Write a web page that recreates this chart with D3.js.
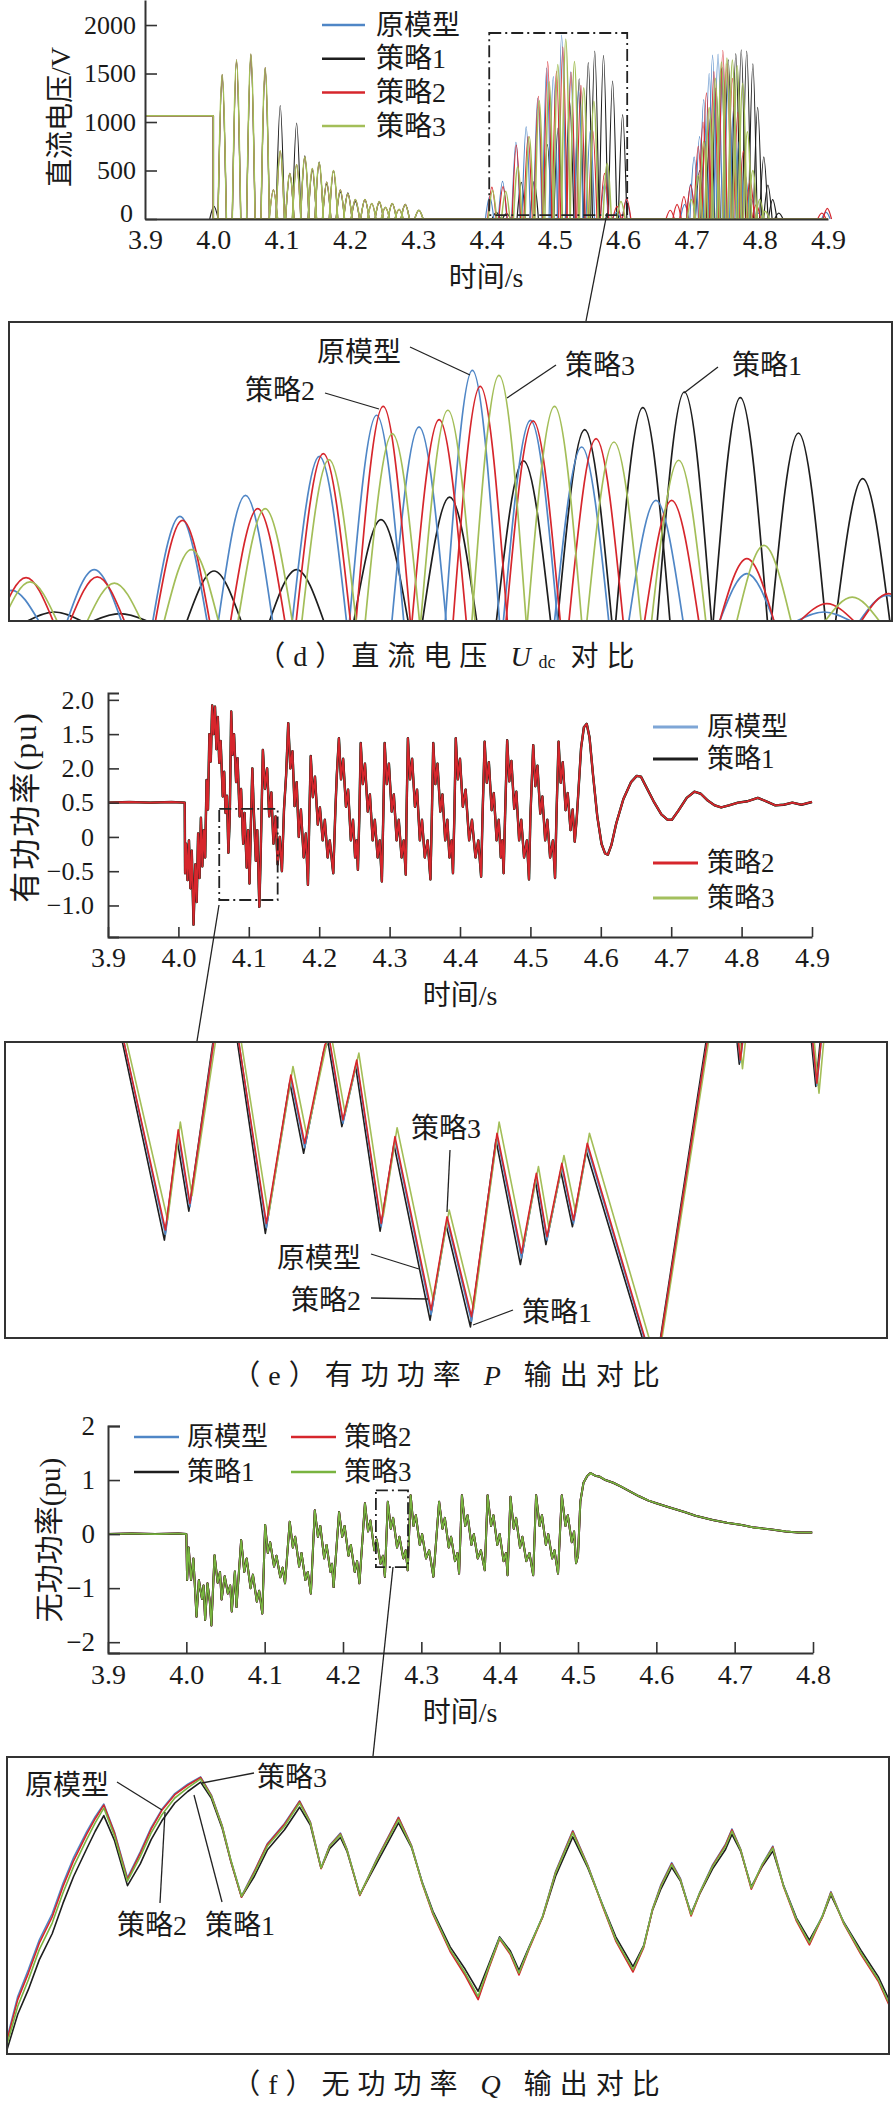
<!DOCTYPE html>
<html><head><meta charset="utf-8">
<script src="https://cdn.jsdelivr.net/npm/d3@7"></script>
<style>body{margin:0;background:#fff}svg{display:block}</style>
</head><body><svg id="c" width="894" height="2106"></svg>
<script>
// ================= DATA =================
const seriesNames = ["原模型","策略1","策略2","策略3"];
const timeTicksD = [3.9,4.0,4.1,4.2,4.3,4.4,4.5,4.6,4.7,4.8,4.9];
const timeTicksE = [3.9,4.0,4.1,4.2,4.3,4.4,4.5,4.6,4.7,4.8,4.9];
const timeTicksF = [3.9,4.0,4.1,4.2,4.3,4.4,4.5,4.6,4.7,4.8];
const yTicksD = [0,500,1000,1500,2000];
const yLabelsD = ["0","500","1000","1500","2000"];
const yTicksE = [-1.0,-0.5,0,0.5,1.0,1.5,2.0];
const yLabelsE = ["\u22121.0","\u22120.5","0","0.5","2.0","1.5","2.0"];
const yTicksF = [-2,-1,0,1,2];
const yLabelsF = ["\u22122","\u22121","0","1","2"];

// (d) DC voltage: pre-fault level then baseline, and pulse peaks [t, V]
const dPreFault = [[3.9,1065],[4.0,1065],[4.0,0],[4.9,0]];
const dEarly = [[4.013,1490],[4.034,1640],[4.055,1700],[4.076,1560],[4.088,300],[4.098,700],[4.112,470],[4.122,560],[4.134,640],[4.145,520],[4.155,580],[4.166,380],[4.176,500],[4.186,300],[4.197,260],[4.208,200],[4.222,200],[4.232,160],[4.243,180],[4.252,120],[4.262,160],[4.272,100],[4.281,150],[4.301,90]];
const dEarlyBlack = [[4.001,130],[4.013,1480],[4.034,1630],[4.055,1690],[4.076,1550],[4.098,1170],[4.112,470],[4.122,990],[4.134,650],[4.145,500],[4.155,590],[4.166,360],[4.176,500],[4.186,280],[4.197,270],[4.208,180],[4.222,200],[4.243,170],[4.262,160],[4.281,150],[4.301,90]];
const dBlueA = [[4.4046,232],[4.4235,388],[4.4431,791],[4.4581,950],[4.4750,1245],[4.4881,1555],[4.4978,1467],[4.5100,1895],[4.5233,1517],[4.5350,1315],[4.5520,912],[4.5728,358],[4.5904,68],[4.6048,194]];
const dBlackA = [[4.4144,68],[4.4294,55],[4.4509,378],[4.4698,388],[4.4891,766],[4.5048,937],[4.5217,1210],[4.5357,1446],[4.5490,1613],[4.5585,1731],[4.5713,1688],[4.5846,1421],[4.5993,1076]];
const dRedA = [[4.4079,328],[4.4242,333],[4.4437,761],[4.4609,849],[4.4759,1265],[4.4896,1623],[4.5024,1522],[4.5118,1774],[4.5239,1512],[4.5383,1378],[4.5556,912],[4.5728,471],[4.5911,131],[4.6052,207]];
const dGreenA = [[4.4088,295],[4.4281,287],[4.4457,540],[4.4626,849],[4.4772,1220],[4.4917,1416],[4.5044,1593],[4.5161,1857],[4.5288,1623],[4.5424,1353],[4.5572,1215],[4.5767,572],[4.5969,181]];
const dBlueB = [[4.690,150],[4.699,360],[4.704,640],[4.712,850],[4.718,1230],[4.726,1500],[4.731,1690],[4.739,1700],[4.746,1560],[4.754,1400],[4.762,1150],[4.770,800],[4.779,450],[4.788,200],[4.798,60],[4.897,70]];
const dBlackB = [[4.712,500],[4.720,800],[4.728,1050],[4.736,1350],[4.744,1550],[4.754,1640],[4.765,1705],[4.773,1745],[4.781,1730],[4.790,1600],[4.797,1150],[4.806,640],[4.812,350],[4.819,200],[4.828,60]];
const dRedB = [[4.669,90],[4.679,150],[4.689,230],[4.699,350],[4.710,750],[4.717,1000],[4.722,1300],[4.733,1520],[4.746,1740],[4.752,1600],[4.760,1450],[4.768,1100],[4.776,700],[4.786,400],[4.795,150],[4.891,60],[4.899,110]];
const dGreenB = [[4.700,200],[4.710,450],[4.718,800],[4.726,1150],[4.735,1450],[4.744,1620],[4.752,1660],[4.760,1640],[4.767,1580],[4.775,1400],[4.782,900],[4.790,500],[4.800,200],[4.808,80]];

// (e) active power P (pu), [t, P]
const pMain = [[3.900,0.50],[3.930,0.51],[3.960,0.50],[3.990,0.51],[4.009,0.50],
[4.0095,-0.53],[4.011,-0.10],[4.013,-0.63],[4.015,-0.05],[4.017,-0.75],[4.019,-0.20],[4.0215,-1.28],[4.024,-0.40],[4.026,-0.95],[4.028,0.05],[4.030,-0.60],[4.032,0.28],[4.034,-0.43],[4.036,0.10],[4.038,-0.30],[4.040,0.83],[4.042,0.40],[4.044,1.50],[4.046,1.10],[4.048,1.92],[4.050,1.50],[4.052,1.90],[4.054,1.28],[4.056,1.75],[4.058,1.08],[4.060,1.40],[4.063,0.59],[4.065,0.95],[4.067,0.35],[4.069,0.60],[4.071,-0.23],[4.073,0.30],[4.075,1.83],[4.077,1.20],[4.079,1.50],[4.082,0.80],[4.084,1.15],[4.087,0.30],[4.089,0.70],[4.092,-0.10],[4.094,0.35],[4.097,-0.45],[4.099,0.10],[4.101,-0.68],[4.103,0.20],[4.105,1.00],[4.107,0.40],[4.110,-0.35],[4.112,0.10],[4.115,-1.02],[4.117,-0.20],[4.120,1.27],[4.123,0.70],[4.126,1.00],[4.129,0.30],[4.132,0.65],[4.135,-0.10],[4.138,0.30],[4.141,-0.40],[4.144,0.00],[4.147,-0.50],[4.150,0.40],[4.153,0.90],[4.156,1.66],[4.159,1.00],[4.162,1.25],[4.165,0.45],[4.168,0.80],[4.171,0.00],[4.174,0.40],[4.178,-0.30],[4.181,0.05],
[4.184,-0.70],[4.186,0.30],[4.188,1.18],[4.191,0.58],[4.194,0.88],[4.198,0.18],[4.201,0.43],[4.205,-0.05],[4.208,0.25],[4.212,-0.30],[4.215,-0.05],
[4.220,-0.53],[4.223,0.40],[4.225,0.90],[4.228,1.44],[4.231,0.84],[4.234,1.14],[4.238,0.44],[4.241,0.69],[4.245,-0.05],[4.248,0.25],[4.251,-0.30],[4.253,-0.05],
[4.255,-0.48],[4.257,0.30],[4.259,1.37],[4.262,0.77],[4.265,1.07],[4.269,0.37],[4.272,0.62],[4.276,-0.05],[4.279,0.25],[4.283,-0.30],[4.286,-0.05],
[4.289,-0.65],[4.291,0.30],[4.293,1.37],[4.296,0.77],[4.299,1.07],[4.303,0.37],[4.306,0.62],[4.310,-0.05],[4.313,0.25],[4.317,-0.30],[4.320,-0.05],
[4.323,-0.55],[4.324,0.30],[4.326,1.44],[4.329,0.84],[4.332,1.14],[4.336,0.44],[4.339,0.69],[4.343,-0.05],[4.346,0.25],[4.350,-0.30],[4.354,-0.05],
[4.358,-0.62],[4.360,0.30],[4.362,1.37],[4.365,0.77],[4.368,1.07],[4.372,0.37],[4.375,0.62],[4.379,-0.05],[4.382,0.25],[4.385,-0.30],[4.388,-0.05],
[4.390,-0.53],[4.392,0.30],[4.394,1.44],[4.397,0.84],[4.400,1.14],[4.404,0.44],[4.408,0.69],[4.413,-0.05],[4.417,0.25],[4.422,-0.30],[4.426,-0.05],
[4.430,-0.58],[4.432,0.30],[4.435,1.39],[4.438,0.79],[4.441,1.09],[4.445,0.39],[4.448,0.64],[4.452,-0.05],[4.455,0.25],[4.458,-0.30],[4.460,-0.05],
[4.462,-0.53],[4.464,0.30],[4.467,1.41],[4.470,0.81],[4.473,1.11],[4.477,0.41],[4.480,0.66],[4.484,-0.05],[4.487,0.25],[4.491,-0.30],[4.495,-0.05],
[4.498,-0.62],[4.500,0.30],[4.504,1.34],[4.507,0.74],[4.510,1.04],[4.514,0.34],[4.517,0.59],[4.521,-0.05],[4.524,0.25],[4.528,-0.30],[4.532,-0.05],
[4.535,-0.60],[4.537,0.30],[4.540,1.39],[4.543,0.79],[4.546,1.09],[4.550,0.39],[4.553,0.64],[4.557,0.10],[4.560,0.40],[4.563,-0.07],
[4.566,0.30],[4.569,0.80],[4.572,1.30],[4.576,1.60],[4.580,1.65],[4.584,1.45],[4.589,0.90],[4.595,0.30],[4.601,-0.10],[4.606,-0.24],[4.610,-0.26],[4.615,-0.12],[4.622,0.20],[4.632,0.55],[4.643,0.80],[4.651,0.89],[4.657,0.88],[4.665,0.72],[4.675,0.52],[4.686,0.33],[4.695,0.25],[4.701,0.25],[4.710,0.38],[4.722,0.57],[4.733,0.66],[4.742,0.63],[4.752,0.53],[4.762,0.46],[4.771,0.43],[4.782,0.46],[4.795,0.50],[4.808,0.52],[4.823,0.57],[4.835,0.52],[4.848,0.46],[4.860,0.47],[4.872,0.50],[4.885,0.47],[4.900,0.51]];

// (e) zoom window series
const pZoomBlue = [[4.0680,0.60],[4.0691,0.43],[4.0731,-0.455],[4.0743,-0.005],[4.0754,-0.33],[4.0777,0.43],[4.0785,0.65],[4.0795,0.65],[4.0800,0.41],[4.0826,-0.425],[4.0849,0.245],[4.0862,-0.065],[4.0881,0.385],[4.0885,0.42],[4.0898,0.045],[4.0911,0.315],[4.0934,-0.42],[4.0947,-0.03],[4.0981,-0.815],[4.0996,-0.39],[4.1019,-0.845],[4.1043,-0.015],[4.1066,-0.56],[4.1080,-0.195],[4.1090,-0.48],[4.1104,-0.15],[4.1115,-0.405],[4.1128,-0.06],[4.1192,-1.09],[4.1241,0.42],[4.1250,0.65],[4.1265,0.65],[4.1272,0.32],[4.1280,0.65],[4.1335,0.65],[4.1344,0.215],[4.1353,0.65]];
const pZoomBlack = [[4.0679,0.60],[4.0690,0.42],[4.0730,-0.48],[4.0742,-0.03],[4.0753,-0.35],[4.0776,0.42],[4.0784,0.65],[4.0794,0.65],[4.0799,0.40],[4.0825,-0.45],[4.0848,0.23],[4.0861,-0.09],[4.0880,0.37],[4.0884,0.41],[4.0897,0.03],[4.0910,0.30],[4.0933,-0.44],[4.0946,-0.05],[4.0980,-0.84],[4.0995,-0.41],[4.1018,-0.87],[4.1042,-0.03],[4.1065,-0.59],[4.1079,-0.21],[4.1089,-0.50],[4.1103,-0.17],[4.1114,-0.42],[4.1127,-0.08],[4.1191,-1.10],[4.1240,0.42],[4.1249,0.65],[4.1264,0.65],[4.1271,0.31],[4.1279,0.65],[4.1334,0.65],[4.1343,0.21],[4.1352,0.65]];
const pZoomRed = [[4.0680,0.60],[4.0691,0.43],[4.0731,-0.435],[4.0743,0.015],[4.0754,-0.315],[4.0777,0.43],[4.0785,0.65],[4.0795,0.65],[4.0800,0.41],[4.0826,-0.405],[4.0849,0.262],[4.0862,-0.045],[4.0881,0.397],[4.0885,0.43],[4.0898,0.06],[4.0911,0.329],[4.0934,-0.405],[4.0947,-0.015],[4.0981,-0.794],[4.0996,-0.375],[4.1019,-0.824],[4.1043,0.0],[4.1066,-0.539],[4.1080,-0.18],[4.1090,-0.465],[4.1104,-0.135],[4.1115,-0.39],[4.1128,-0.045],[4.1192,-1.08],[4.1241,0.42],[4.1250,0.65],[4.1265,0.65],[4.1272,0.329],[4.1280,0.65],[4.1335,0.65],[4.1344,0.225],[4.1353,0.65]];
const pZoomGreen = [[4.0682,0.60],[4.0693,0.44],[4.0733,-0.39],[4.0745,0.05],[4.0756,-0.28],[4.0779,0.44],[4.0787,0.65],[4.0797,0.65],[4.0802,0.42],[4.0828,-0.37],[4.0851,0.30],[4.0864,-0.01],[4.0883,0.41],[4.0887,0.44],[4.0900,0.09],[4.0913,0.36],[4.0936,-0.37],[4.0949,0.025],[4.0983,-0.75],[4.0998,-0.345],[4.1021,-0.79],[4.1045,0.05],[4.1068,-0.50],[4.1082,-0.15],[4.1092,-0.43],[4.1106,-0.10],[4.1117,-0.355],[4.1130,0.0],[4.1194,-1.05],[4.1243,0.44],[4.1252,0.65],[4.1267,0.65],[4.1274,0.29],[4.1282,0.65],[4.1337,0.65],[4.1346,0.18],[4.1355,0.65]];

// (f) reactive power Q (pu), [t, Q]
const qMain = [[3.900,0.00],[3.930,0.01],[3.960,0.00],[3.990,0.01],[4.000,0.00],
[4.001,-0.85],[4.003,-0.25],[4.006,-0.85],[4.009,-0.45],[4.013,-1.53],[4.016,-0.85],[4.020,-1.20],[4.022,-0.95],[4.024,-1.59],[4.027,-0.91],[4.030,-1.25],[4.032,-1.69],[4.036,-0.39],[4.040,-0.90],[4.043,-0.70],[4.045,-1.21],[4.049,-0.78],[4.053,-1.10],[4.056,-0.95],[4.058,-1.43],[4.062,-0.69],[4.064,-1.35],
[4.070,-0.11],[4.074,-0.70],[4.077,-0.45],[4.082,-1.00],[4.085,-0.75],[4.090,-1.25],[4.093,-1.05],[4.097,-1.47],
[4.1006,0.17],[4.104,-0.35],[4.107,-0.15],[4.112,-0.60],[4.115,-0.40],[4.120,-0.80],[4.123,-0.62],[4.126,-0.91],
[4.132,0.23],[4.136,-0.25],[4.139,-0.05],[4.144,-0.60],[4.147,-0.35],[4.152,-0.85],[4.155,-0.70],[4.159,-1.10],
[4.164,0.44],[4.168,-0.05],[4.171,0.15],[4.176,-0.45],[4.179,-0.20],[4.184,-0.70],[4.186,-0.55],[4.188,-0.98],
[4.195,0.41],[4.199,-0.05],[4.202,0.15],[4.207,-0.40],[4.210,-0.20],[4.215,-0.70],[4.218,-0.50],[4.221,-0.91],
[4.228,0.57],[4.232,0.05],[4.235,0.25],[4.240,-0.30],[4.243,-0.10],[4.248,-0.55],[4.251,-0.40],[4.2535,-0.79],
[4.2572,0.60],[4.261,0.10],[4.264,0.30],[4.269,-0.25],[4.272,-0.05],[4.277,-0.45],[4.280,-0.30],[4.2826,-0.67],
[4.2863,0.72],[4.290,0.15],[4.293,0.35],[4.298,-0.20],[4.301,0.00],[4.306,-0.45],[4.310,-0.30],[4.3154,-0.79],
[4.3227,0.60],[4.327,0.10],[4.330,0.30],[4.335,-0.25],[4.338,-0.05],[4.343,-0.50],[4.346,-0.35],[4.3482,-0.73],
[4.3518,0.72],[4.356,0.15],[4.359,0.35],[4.364,-0.20],[4.367,0.00],[4.372,-0.45],[4.376,-0.30],[4.381,-0.67],
[4.3846,0.72],[4.389,0.15],[4.392,0.35],[4.397,-0.20],[4.400,0.00],[4.405,-0.50],[4.408,-0.35],[4.4101,-0.76],
[4.4138,0.69],[4.418,0.10],[4.421,0.30],[4.426,-0.25],[4.429,-0.05],[4.434,-0.50],[4.438,-0.35],[4.4428,-0.76],
[4.4465,0.72],[4.451,0.15],[4.454,0.35],[4.459,-0.20],[4.462,0.00],[4.467,-0.45],[4.470,-0.30],[4.4745,-0.73],
[4.4793,0.72],[4.484,0.15],[4.487,0.35],[4.492,-0.15],[4.495,0.05],[4.4975,-0.54],
[4.500,-0.40],[4.503,0.60],[4.507,0.95],[4.512,1.08],[4.516,1.13],[4.522,1.08],[4.528,1.06],[4.535,1.00],[4.545,0.95],[4.555,0.88],[4.565,0.80],[4.578,0.70],[4.590,0.62],[4.600,0.57],[4.615,0.50],[4.636,0.41],[4.650,0.34],[4.672,0.26],[4.690,0.21],[4.709,0.17],[4.725,0.12],[4.745,0.09],[4.765,0.05],[4.781,0.03],[4.799,0.03]];

// (f) zoom window: shared sample times and per-series values
const qZoomT = [4.2420,4.2425,4.2430,4.2435,4.2441,4.2446,4.2451,4.2457,4.2461,4.2465,4.2470,4.2476,4.2482,4.2487,4.2492,4.2498,4.2504,4.2510,4.2515,4.2520,4.2524,4.2529,4.2535,4.2541,4.2549,4.2556,4.2561,4.2566,4.2570,4.2575,4.2578,4.2584,4.2592,4.2602,4.2608,4.2613,4.2618,4.2626,4.2633,4.2639,4.2644,4.2649,4.2654,4.2658,4.2663,4.2669,4.2675,4.2683,4.2690,4.2697,4.2703,4.2711,4.2716,4.2720,4.2724,4.2729,4.2733,4.2738,4.2742,4.2748,4.2754,4.2757,4.2761,4.2766,4.2771,4.2776,4.2781,4.2787,4.2793,4.2799,4.2803,4.2809,4.2817,4.2825,4.2830];
const qZoomGreen = [-0.565,-0.382,-0.254,-0.111,0.016,0.160,0.287,0.415,0.495,0.566,0.431,0.216,0.335,0.447,0.534,0.614,0.662,0.705,0.622,0.479,0.319,0.144,0.255,0.383,0.479,0.590,0.495,0.279,0.383,0.439,0.367,0.152,0.319,0.511,0.383,0.208,0.064,-0.111,-0.223,-0.334,-0.191,-0.055,-0.127,-0.223,-0.095,0.048,0.255,0.447,0.287,0.096,-0.063,-0.207,-0.095,0.080,0.192,0.295,0.224,0.056,0.160,0.287,0.383,0.455,0.367,0.184,0.295,0.375,0.192,0.032,-0.079,0.048,0.160,0.016,-0.127,-0.254,-0.366];
const qZoomRed = [-0.545,-0.350,-0.222,-0.080,0.045,0.190,0.315,0.440,0.515,0.580,0.445,0.225,0.350,0.465,0.555,0.630,0.675,0.712,0.625,0.480,0.315,0.140,0.262,0.392,0.488,0.598,0.498,0.276,0.385,0.443,0.367,0.148,0.322,0.520,0.385,0.205,0.058,-0.120,-0.235,-0.350,-0.200,-0.060,-0.135,-0.232,-0.100,0.045,0.258,0.455,0.290,0.092,-0.070,-0.218,-0.100,0.078,0.195,0.300,0.226,0.050,0.158,0.290,0.390,0.462,0.368,0.178,0.292,0.380,0.190,0.025,-0.088,0.045,0.163,0.012,-0.135,-0.262,-0.375];
const qZoomBlue = [-0.535,-0.335,-0.205,-0.065,0.060,0.205,0.330,0.452,0.525,0.585,0.450,0.232,0.358,0.472,0.560,0.635,0.680,0.715,0.628,0.482,0.318,0.145,0.265,0.395,0.492,0.600,0.500,0.280,0.388,0.446,0.370,0.150,0.325,0.522,0.388,0.210,0.062,-0.115,-0.228,-0.342,-0.195,-0.055,-0.130,-0.226,-0.096,0.050,0.262,0.458,0.292,0.096,-0.065,-0.212,-0.096,0.082,0.200,0.305,0.230,0.055,0.162,0.294,0.393,0.466,0.370,0.182,0.296,0.384,0.194,0.030,-0.082,0.050,0.166,0.016,-0.130,-0.256,-0.368];
const qZoomBlack = [-0.590,-0.420,-0.300,-0.160,-0.035,0.110,0.240,0.370,0.455,0.530,0.410,0.195,0.300,0.415,0.505,0.590,0.645,0.690,0.612,0.470,0.312,0.140,0.240,0.365,0.462,0.570,0.485,0.278,0.372,0.425,0.360,0.152,0.305,0.495,0.378,0.212,0.072,-0.098,-0.205,-0.310,-0.180,-0.050,-0.118,-0.210,-0.090,0.045,0.240,0.428,0.280,0.100,-0.050,-0.192,-0.090,0.075,0.180,0.282,0.218,0.062,0.155,0.275,0.368,0.440,0.360,0.190,0.285,0.360,0.195,0.040,-0.066,0.045,0.150,0.020,-0.115,-0.240,-0.350];

// ================= DRAW =================
const FONT = "'Liberation Serif','Times New Roman','Noto Sans CJK SC',serif";
const C = {blue:"#4f86c6", black:"#1e1e1e", red:"#d6262c", greenD:"#a3be58", greenF:"#79b440",
           legBlue:"#7ea6d6", legGreen:"#a3c05e", axis:"#333"};
const svg = d3.select("#c");
svg.append("rect").attr("width",894).attr("height",2106).attr("fill","#fff");
const defs = svg.append("defs");
function clip(id,x,y,w,h){defs.append("clipPath").attr("id",id).append("rect").attr("x",x).attr("y",y).attr("width",w).attr("height",h);}

function text(g,x,y,s,size,anchor,extra){
  const t=g.append("text").attr("x",x).attr("y",y).attr("font-family",FONT).attr("font-size",size)
   .attr("text-anchor",anchor||"middle").attr("dominant-baseline","central").attr("fill","#1a1a1a").text(s);
  if(extra) extra(t);
  return t;
}
function seg(g,x1,y1,x2,y2,w){
  g.append("line").attr("x1",x1).attr("y1",y1).attr("x2",x2).attr("y2",y2).attr("stroke","#222").attr("stroke-width",w||1.3);
}
function axes(g,x,y,o){
  const ax=d3.axisBottom(x).tickValues(o.xTicks).tickFormat(d=>d.toFixed(1))
    .tickSizeInner(-o.xLen).tickSizeOuter(0).tickPadding(o.xPad);
  const gx=g.append("g").attr("transform",`translate(0,${o.y0})`).call(ax);
  gx.selectAll("text").attr("font-family",FONT).attr("font-size",o.xFont).attr("fill","#1a1a1a");
  const ay=d3.axisLeft(y).tickValues(o.yTicks).tickFormat((d,i)=>o.yLabels[i])
    .tickSizeInner(-o.yLen).tickSizeOuter(-o.outer).tickPadding(o.yPad);
  const gy=g.append("g").attr("transform",`translate(${o.x0},0)`).call(ay);
  gy.selectAll("text").attr("font-family",FONT).attr("font-size",o.yFont).attr("fill","#1a1a1a");
  [gx,gy].forEach(a=>{a.select(".domain").attr("stroke",C.axis).attr("stroke-width",2);
    a.selectAll(".tick line").attr("stroke",C.axis).attr("stroke-width",1.6);});
  return {gx,gy};
}
function box(g,x,y,w,h){g.append("rect").attr("x",x).attr("y",y).attr("width",w).attr("height",h)
  .attr("fill","none").attr("stroke","#333").attr("stroke-width",2);}
function dashBox(g,sx,sy,t0,t1,v0,v1){
  g.append("rect").attr("x",sx(t0)).attr("y",sy(v1)).attr("width",sx(t1)-sx(t0)).attr("height",sy(v0)-sy(v1))
   .attr("fill","none").attr("stroke","#222").attr("stroke-width",1.8).attr("stroke-dasharray","12,4,2,4");
}
function poly(g,data,sx,sy,color,w){
  g.append("path").attr("d",d3.line().x(d=>sx(d[0])).y(d=>sy(d[1]))(data))
   .attr("fill","none").attr("stroke",color).attr("stroke-width",w).attr("stroke-linejoin","round");
}
const HW = 0.0062;
function humps(g,peaks,sx,sy,color,w){
  const ln=d3.line().x(d=>sx(d[0])).y(d=>sy(d[1])).curve(d3.curveMonotoneX);
  g.append("g").selectAll("path").data(peaks).enter().append("path")
   .attr("d",p=>ln([[p[0]-HW,0],[p[0],p[1]],[p[0]+HW,0]]))
   .attr("fill","none").attr("stroke",color).attr("stroke-width",w);
}
function caption(y,tag,pre,sym,sub,post){
  const t=svg.append("text").attr("x",450).attr("y",y).attr("font-family",FONT).attr("font-size",28)
    .attr("letter-spacing",8).attr("text-anchor","middle").attr("dominant-baseline","central").attr("fill","#1a1a1a");
  t.append("tspan").text("（"+tag+"）"+pre+" ");
  t.append("tspan").attr("font-style","italic").text(sym);
  if(sub) t.append("tspan").attr("font-size",18).attr("letter-spacing",0).attr("dy",6).text(sub);
  t.append("tspan").attr("dy",sub?-6:0).text(" "+post);
}

// ---------- (d) ----------
const dSeries = [
  {color:C.black, w:1.2, peaks:dEarlyBlack.concat(dBlackA,dBlackB)},
  {color:C.blue,  w:1.2, peaks:dEarly.concat(dBlueA,dBlueB)},
  {color:C.red,   w:1.2, peaks:dEarly.concat(dRedA,dRedB)},
  {color:C.greenD,w:1.5, peaks:dEarly.concat(dGreenA,dGreenB)}
];
const xD=d3.scaleLinear().domain([3.9,4.9]).range([145,828]);
const yD=d3.scaleLinear().domain([0,2258]).range([219,0]);
const gD=svg.append("g");
dSeries.forEach(s=>{poly(gD,dPreFault,xD,yD,s.color,1.5); humps(gD,s.peaks,xD,yD,s.color,s.w);});
const axD=axes(gD,xD,yD,{xTicks:timeTicksD,xLen:0,xPad:10,xFont:28,y0:219,yTicks:yTicksD,yLabels:yLabelsD,yLen:12,outer:0,yPad:9,yFont:26,x0:145});
axD.gy.selectAll(".tick text").filter(d=>d===0).attr("dy","0.1em").attr("dx","-3");
dashBox(gD,xD,yD,4.404,4.606,40,1918);
text(gD,486,277,"时间/s",28);
text(gD,0,0,"直流电压/V",28,"middle",t=>t.attr("transform","translate(60,117) rotate(-90)"));
const legD=[{n:seriesNames[0],c:C.blue},{n:seriesNames[1],c:C.black},{n:seriesNames[2],c:C.red},{n:seriesNames[3],c:C.greenD}];
legD.forEach((l,i)=>{const y=25+i*33.7;
  gD.append("line").attr("x1",322).attr("x2",365).attr("y1",y).attr("y2",y).attr("stroke",l.c).attr("stroke-width",2.5);
  text(gD,376,y,l.n,28,"start");});
seg(svg,607,213,586,321,1.3);
// zoom (d)
clip("clipD",9,322,883,299);
const xDz=d3.scaleLinear().domain([4.404,4.606]).range([9,892]);
const yDz=d3.scaleLinear().domain([0,2260]).range([621,322]);
const gDz=svg.append("g").attr("clip-path","url(#clipD)");
dSeries.forEach(s=>{poly(gDz,dPreFault,xDz,yDz,s.color,1.6); humps(gDz,s.peaks,xDz,yDz,s.color,1.7);});
box(svg,9,322,883,299);
text(svg,359,352,"原模型",28); seg(svg,410,347,470,375);
text(svg,280,390,"策略2",28); seg(svg,325,393,379,409);
text(svg,600,365,"策略3",28); seg(svg,556,365,507,398);
text(svg,767,365,"策略1",28); seg(svg,718,367,684,393);
caption(656,"d","直流电压","U","dc","对比");

// ---------- (e) ----------
const xE=d3.scaleLinear().domain([3.9,4.9]).range([108,812]);
const yE=d3.scaleLinear().domain([-1.46,2.1]).range([937,693]);
const gE=svg.append("g");
poly(gE,pMain,xE,yE,C.blue,2.2);
poly(gE,pMain,xE,yE,C.greenD,2.2);
poly(gE,pMain,xE,yE,C.black,2.4);
poly(gE,pMain,xE,yE,C.red,1.8);
axes(gE,xE,yE,{xTicks:timeTicksE,xLen:10,xPad:10,xFont:28,y0:937,yTicks:yTicksE,yLabels:yLabelsE,yLen:11,outer:11,yPad:14,yFont:26,x0:108});
dashBox(gE,xE,yE,4.058,4.141,-0.92,0.41);
text(gE,460,995,"时间/s",28);
text(gE,0,0,"有功功率(pu)",31,"middle",t=>t.attr("letter-spacing",2).attr("transform","translate(25,807) rotate(-90)"));
const legE=[{n:seriesNames[0],c:C.legBlue,y:727},{n:seriesNames[1],c:C.black,y:759},{n:seriesNames[2],c:C.red,y:863},{n:seriesNames[3],c:C.legGreen,y:898}];
legE.forEach(l=>{gE.append("line").attr("x1",653).attr("x2",698).attr("y1",l.y).attr("y2",l.y).attr("stroke",l.c).attr("stroke-width",3);
  text(gE,707,l.y,l.n,27,"start");});
seg(svg,219,905,197,1041,1.3);
clip("clipE",5,1042,882,296);
const xEz=d3.scaleLinear().domain([4.058,4.141]).range([5,887]);
const yEz=d3.scaleLinear().domain([-0.92,0.41]).range([1338,1042]);
const gEz=svg.append("g").attr("clip-path","url(#clipE)");
poly(gEz,pZoomBlack,xEz,yEz,C.black,1.6);
poly(gEz,pZoomBlue,xEz,yEz,C.blue,1.6);
poly(gEz,pZoomGreen,xEz,yEz,C.greenD,1.6);
poly(gEz,pZoomRed,xEz,yEz,C.red,1.6);
box(svg,5,1042,882,296);
text(svg,446,1128,"策略3",28); seg(svg,450,1150,447,1212);
text(svg,319,1258,"原模型",28); seg(svg,371,1254,419,1269);
text(svg,326,1300,"策略2",28); seg(svg,371,1298,428,1299);
text(svg,557,1312,"策略1",28); seg(svg,513,1310,473,1325);
caption(1375,"e","有功功率","P",null,"输出对比");

// ---------- (f) ----------
const xF=d3.scaleLinear().domain([3.9,4.8]).range([108,813]);
const yF=d3.scaleLinear().domain([-2.2,2.0]).range([1653,1426]);
const gF=svg.append("g");
poly(gF,qMain,xF,yF,C.blue,2.0);
poly(gF,qMain,xF,yF,C.red,2.0);
poly(gF,qMain,xF,yF,C.black,2.0);
poly(gF,qMain,xF,yF,C.greenF,1.6);
axes(gF,xF,yF,{xTicks:timeTicksF,xLen:11,xPad:11,xFont:28,y0:1653,yTicks:yTicksF,yLabels:yLabelsF,yLen:12,outer:12,yPad:13,yFont:27,x0:108});
dashBox(gF,xF,yF,4.242,4.283,-0.61,0.81);
text(gF,460,1712,"时间/s",28);
text(gF,0,0,"无功功率(pu)",29,"middle",t=>t.attr("transform","translate(50,1540) rotate(-90)"));
const legF=[{n:seriesNames[0],c:C.blue,x:134,y:1437},{n:seriesNames[2],c:C.red,x:291,y:1437},{n:seriesNames[1],c:C.black,x:134,y:1472},{n:seriesNames[3],c:C.greenF,x:291,y:1472}];
legF.forEach(l=>{gF.append("line").attr("x1",l.x).attr("x2",l.x+45).attr("y1",l.y).attr("y2",l.y).attr("stroke",l.c).attr("stroke-width",2.5);
  text(gF,l.x+53,l.y,l.n,27,"start");});
seg(svg,393,1567,373,1756,1.3);
clip("clipF",7,1757,882,297);
const xFz=d3.scaleLinear().domain([4.242,4.283]).range([7,889]);
const yFz=d3.scaleLinear().domain([-0.61,0.81]).range([2054,1757]);
const gFz=svg.append("g").attr("clip-path","url(#clipF)");
[[qZoomBlack,C.black],[qZoomBlue,C.blue],[qZoomRed,C.red],[qZoomGreen,C.greenF]].forEach(([vals,col])=>{
  poly(gFz,qZoomT.map((t,i)=>[t,vals[i]]),xFz,yFz,col,1.6);
});
box(svg,7,1757,882,297);
text(svg,67,1785,"原模型",28); seg(svg,117,1782,162,1810);
text(svg,292,1777,"策略3",28); seg(svg,254,1773,202,1783);
text(svg,152,1925,"策略2",28); seg(svg,160,1903,165,1812);
text(svg,240,1925,"策略1",28); seg(svg,222,1902,194,1795);
caption(2084,"f","无功功率","Q",null,"输出对比");
</script></body></html>
